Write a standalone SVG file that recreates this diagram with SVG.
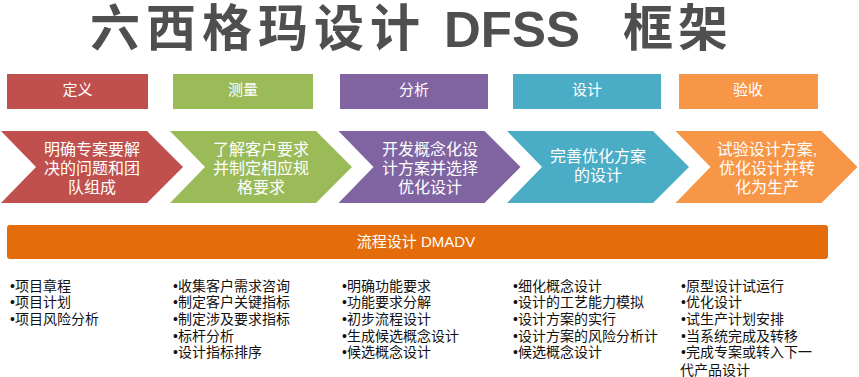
<svg xmlns="http://www.w3.org/2000/svg" width="859" height="377" viewBox="0 0 859 377">
<style>
text{font-family:"Liberation Sans","Noto Sans CJK SC",sans-serif}
.title{font-weight:700;font-size:50px;fill:#4f4f4f}
.lbl{font-size:15px;fill:#ffffff;text-anchor:middle}
.chv{font-size:16px;fill:#ffffff;text-anchor:middle}
.bar{font-size:15px;fill:#ffffff;text-anchor:middle}
.lst{font-size:14px;fill:#111111}
.red{fill:#C0504D}.grn{fill:#9BBB59}.pur{fill:#8064A2}.tea{fill:#4BACC6}.org{fill:#F79646}
</style>
<defs>
<polygon id="chev" points="0,131 146,131 182,167 146,203 0,203 35,167"/>
</defs>
<rect width="859" height="377" fill="#ffffff"/>
<g id="title">
<text class="title" x="90 146 202 258 314 370" y="46">六西格玛设计</text>
<text class="title" x="444" y="47" font-size="54" textLength="136" lengthAdjust="spacingAndGlyphs">DFSS</text>
<text class="title" x="623 678" y="46">框架</text>
</g>
<g id="connectors"/>
<g id="phase-define">
<rect class="red" x="7" y="74" width="141" height="35"/>
<text class="lbl" x="77.5" y="95">定义</text>
</g>
<g id="phase-measure">
<rect class="grn" x="173" y="74" width="140" height="35"/>
<text class="lbl" x="243" y="95">测量</text>
</g>
<g id="phase-analyze">
<rect class="pur" x="340" y="74" width="148" height="35"/>
<text class="lbl" x="414" y="95">分析</text>
</g>
<g id="phase-design">
<rect class="tea" x="513" y="74" width="148" height="35"/>
<text class="lbl" x="587" y="95">设计</text>
</g>
<g id="phase-verify">
<rect class="org" x="679" y="74" width="139" height="35"/>
<text class="lbl" x="748" y="95">验收</text>
</g>
<g id="chevron-1">
<use href="#chev" class="red" x="1"/>
<text class="chv" x="92" y="155">明确专案要解</text>
<text class="chv" x="92" y="174">决的问题和团</text>
<text class="chv" x="92" y="193">队组成</text>
</g>
<g id="chevron-2">
<use href="#chev" class="grn" x="170"/>
<text class="chv" x="261" y="155">了解客户要求</text>
<text class="chv" x="261" y="174">并制定相应规</text>
<text class="chv" x="261" y="193">格要求</text>
</g>
<g id="chevron-3">
<use href="#chev" class="pur" x="338.5"/>
<text class="chv" x="430" y="155">开发概念化设</text>
<text class="chv" x="430" y="174">计方案并选择</text>
<text class="chv" x="430" y="193">优化设计</text>
</g>
<g id="chevron-4">
<use href="#chev" class="tea" x="507"/>
<text class="chv" x="598" y="162">完善优化方案</text>
<text class="chv" x="598" y="181">的设计</text>
</g>
<g id="chevron-5">
<use href="#chev" class="org" x="675.5"/>
<text class="chv" x="767" y="155">试验设计方案,</text>
<text class="chv" x="767" y="174">优化设计并转</text>
<text class="chv" x="767" y="193">化为生产</text>
</g>
<g id="process-bar">
<rect x="7" y="225" width="821" height="34" rx="3" fill="#E46C0A"/>
<text class="bar" x="416" y="247">流程设计 DMADV</text>
</g>
<g id="list-define" class="lst">
<text x="10" y="290.5">•项目章程</text>
<text x="10" y="307">•项目计划</text>
<text x="10" y="324">•项目风险分析</text>
</g>
<g id="list-measure" class="lst">
<text x="173" y="290.5">•收集客户需求咨询</text>
<text x="173" y="307">•制定客户关键指标</text>
<text x="173" y="324">•制定涉及要求指标</text>
<text x="173" y="340.5">•标杆分析</text>
<text x="173" y="357">•设计指标排序</text>
</g>
<g id="list-analyze" class="lst">
<text x="342" y="290.5">•明确功能要求</text>
<text x="342" y="307">•功能要求分解</text>
<text x="342" y="324">•初步流程设计</text>
<text x="342" y="340.5">•生成候选概念设计</text>
<text x="342" y="357">•候选概念设计</text>
</g>
<g id="list-design" class="lst">
<text x="513" y="290.5">•细化概念设计</text>
<text x="513" y="307">•设计的工艺能力模拟</text>
<text x="513" y="324">•设计方案的实行</text>
<text x="513" y="340.5">•设计方案的风险分析计</text>
<text x="513" y="357">•候选概念设计</text>
</g>
<g id="list-verify" class="lst">
<text x="681" y="290.5">•原型设计试运行</text>
<text x="681" y="307">•优化设计</text>
<text x="681" y="324">•试生产计划安排</text>
<text x="681" y="340.5">•当系统完成及转移</text>
<text x="681" y="357">•完成专案或转入下一</text>
<text x="680" y="374.5">代产品设计</text>
</g>
</svg>
